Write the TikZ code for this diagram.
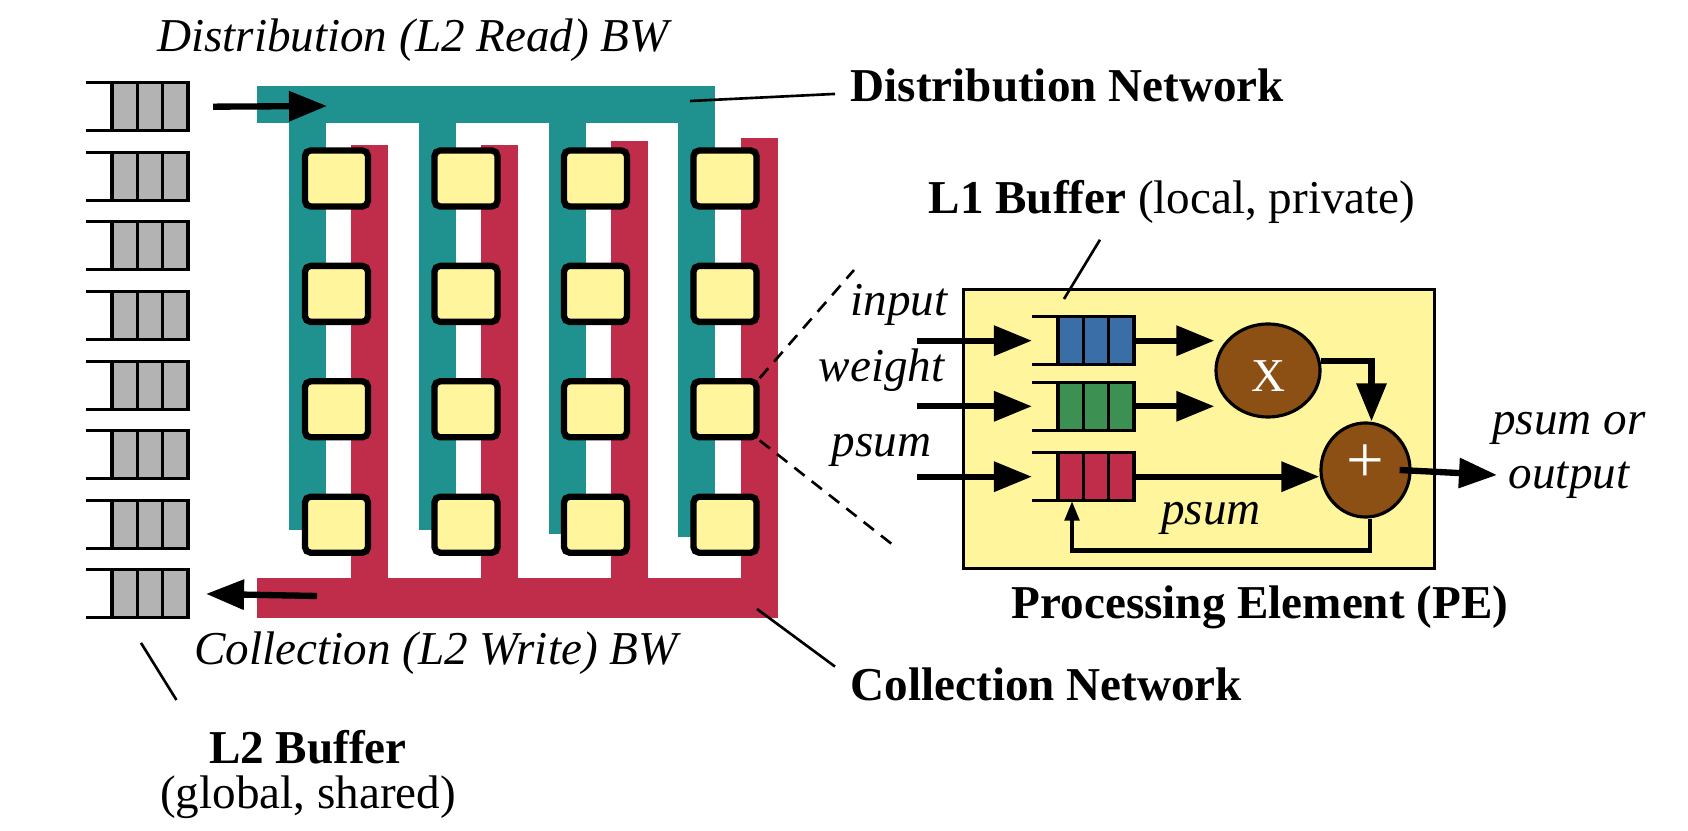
\documentclass[tikz,border=0pt]{standalone}
\usepackage{fontspec}
\setmainfont{Liberation Serif}
\usetikzlibrary{arrows.meta,shapes.geometric}

\definecolor{distteal}{RGB}{31,146,144}
\definecolor{collred}{RGB}{191,45,74}
\definecolor{peyellow}{RGB}{255,245,157}
\definecolor{qgray}{RGB}{179,179,179}
\definecolor{qblue}{RGB}{58,110,166}
\definecolor{qgreen}{RGB}{60,145,82}
\definecolor{opbrown}{RGB}{140,80,20}

\newcommand\figfont{\fontsize{13.4}{15}\selectfont}

\tikzset{
  txt/.style={font=\figfont, inner sep=0pt},
  itxt/.style={font=\figfont\itshape, inner sep=0pt},
  btxt/.style={font=\figfont\bfseries, inner sep=0pt},
  qline/.style={line width=0.9pt},
  leader/.style={line width=0.75pt},
  bigarrow/.style={line width=1.8pt, -{Triangle[length=0.38cm,width=0.29cm]}},
  fbarrow/.style={line width=1.4pt, -{Triangle[length=0.2cm,width=0.14cm]}},
  pe/.style={draw, line width=1.8pt, fill=peyellow, rounded corners=1.6pt,
    minimum width=0.63cm, minimum height=0.56cm, inner sep=0pt},
  op/.style={ellipse, draw, line width=0.9pt, fill=opbrown, text=white, inner sep=0pt},
  pics/queue/.style={code={
    \fill[#1] (-76,-24) rectangle (0,24);
    \draw[qline] (-102,-24) -- (0,-24) -- (0,24) -- (-102,24);
    \foreach \qx in {-76,-50.7,-25.3} \draw[qline] (\qx,-24) -- (\qx,24);
    \coordinate (-e) at (0,0);
    \coordinate (-w) at (-102,0);
    \coordinate (-s) at (-62,24);
  }}
}

\begin{document}
\begin{tikzpicture}[x=0.01cm,y=-0.01cm]
\fill[white] (0,0) rectangle (1688,831);
\useasboundingbox (0,0) rectangle (1688,831);

% distribution network
\fill[distteal] (257,86) rectangle (715,123);
\foreach \x/\b in {289/530,419/530,549/534,678/537}
  \fill[distteal] (\x,120) rectangle (\x+37,\b);
% collection network
\fill[collred] (257,578) rectangle (778,618);
\foreach \x/\t in {351/145,481/145,611/141,741/138}
  \fill[collred] (\x,\t) rectangle (\x+37,580);

% PE array
\foreach \r in {1,...,4}
  \foreach \c in {1,...,4}
    \node[pe] (pe-\r-\c) at ({336.5+129.5*(\c-1)},{178.5+115.4*(\r-1)}) {};

% L2 buffer banks
\foreach \i in {1,...,8}
  \pic (q\i) at (188,{106.7+69.6*(\i-1)}) {queue=qgray};

\coordinate (dist-in) at (327,106);
\coordinate (coll-out) at (317,596);
\draw[bigarrow] ([xshift=0.25cm]q1-e) -- (dist-in);
\draw[bigarrow] (coll-out) -- ([xshift=0.18cm]q8-e);

\node[itxt, anchor=base] (distbw) at (413,52) {Distribution (L2 Read) BW};
\node[itxt, anchor=base] (collbw) at (436,665) {Collection (L2 Write) BW};
\node[btxt, inner xsep=0.15cm, anchor=base west] (distnet) at (835,102) {Distribution Network};
\node[btxt, inner xsep=0.15cm, anchor=base west] (collnet) at (835,700) {Collection Network};
\node[txt, align=center, anchor=north, font=\fontsize{13.4}{12.8}\selectfont] (l2lbl) at (308,730)
  {\textbf{L2 Buffer}\\(global, shared)};

\coordinate (dn-tip) at (690,101);
\coordinate (cn-tip) at (757,609);
\draw[leader] (dn-tip) -- (distnet.mid west);
\draw[leader] (cn-tip) -- (collnet.north west);
\draw[leader] ([shift={(0.15cm,-0.25cm)}]q8-s) -- ([shift={(0.17cm,0.3cm)}]l2lbl.north west);

% zoomed PE
\coordinate (zoom-up) at (854,270);
\coordinate (zoom-lo) at (893,545);
\draw[leader, dash pattern=on 0.13cm off 0.09cm] (pe-3-4.north east) -- (zoom-up);
\draw[leader, dash pattern=on 0.13cm off 0.09cm] (pe-3-4.south east) -- (zoom-lo);

\node[draw, line width=0.85pt, fill=peyellow, minimum width=4.71cm, minimum height=2.79cm,
  inner sep=0pt] (pebox) at (1199,428.8) {};

\pic (qin) at (1134,340.7) {queue=qblue};
\pic (qw)  at (1134,406.3) {queue=qgreen};
\pic (qps) at (1134,476.7) {queue=collred};

\node[op, minimum width=1.04cm, minimum height=0.93cm, font=\figfont, text height=12.2pt]
  (mul) at (1268,370.5) {X};
\node[op, minimum width=0.89cm, minimum height=0.94cm, font=\fontsize{19}{19}\selectfont, text depth=3.8pt]
  (add) at (1365.5,470) {+};

\foreach \q in {qin,qw,qps}
  \draw[bigarrow] ([xshift=-1.15cm]\q-w) -- (\q-w);
\draw[bigarrow] (qin-e) -- (qin-e -| mul.west);
\draw[bigarrow] (qw-e) -- (qw-e -| mul.west);
\draw[bigarrow] (mul.10) -| ([xshift=0.06cm]add.north);
\draw[bigarrow] (qps-e) -- (qps-e -| add.west);
\coordinate (pe-out) at (1497,475);
\draw[bigarrow] ([xshift=-0.12cm]add.east) -- (pe-out);
\draw[fbarrow] ([xshift=0.045cm]add.south) -- ++(0,32) -| (qps-s);

\node[itxt, anchor=base east] (inlbl) at (948,316) {input};
\node[itxt, anchor=base east] (wlbl) at (945,382) {weight};
\node[itxt, anchor=base east] (pslbl) at (932,457) {psum};
\node[itxt, anchor=base] (fblbl) at (1211,525) {psum};
\node[itxt, align=center, anchor=base, font=\fontsize{13.4}{15.6}\selectfont\itshape] (outlbl) at (1569,489)
  {psum or\\output};

\node[txt, anchor=base] (l1lbl) at (1172,214) {\textbf{L1 Buffer} (local, private)};
\draw[leader] ([xshift=-0.72cm,yshift=-0.15cm]l1lbl.south) -- (1064,299) coordinate (l1-tip);
\node[btxt, anchor=base] (pelbl) at (1260,619) {Processing Element (PE)};
\end{tikzpicture}
\end{document}
